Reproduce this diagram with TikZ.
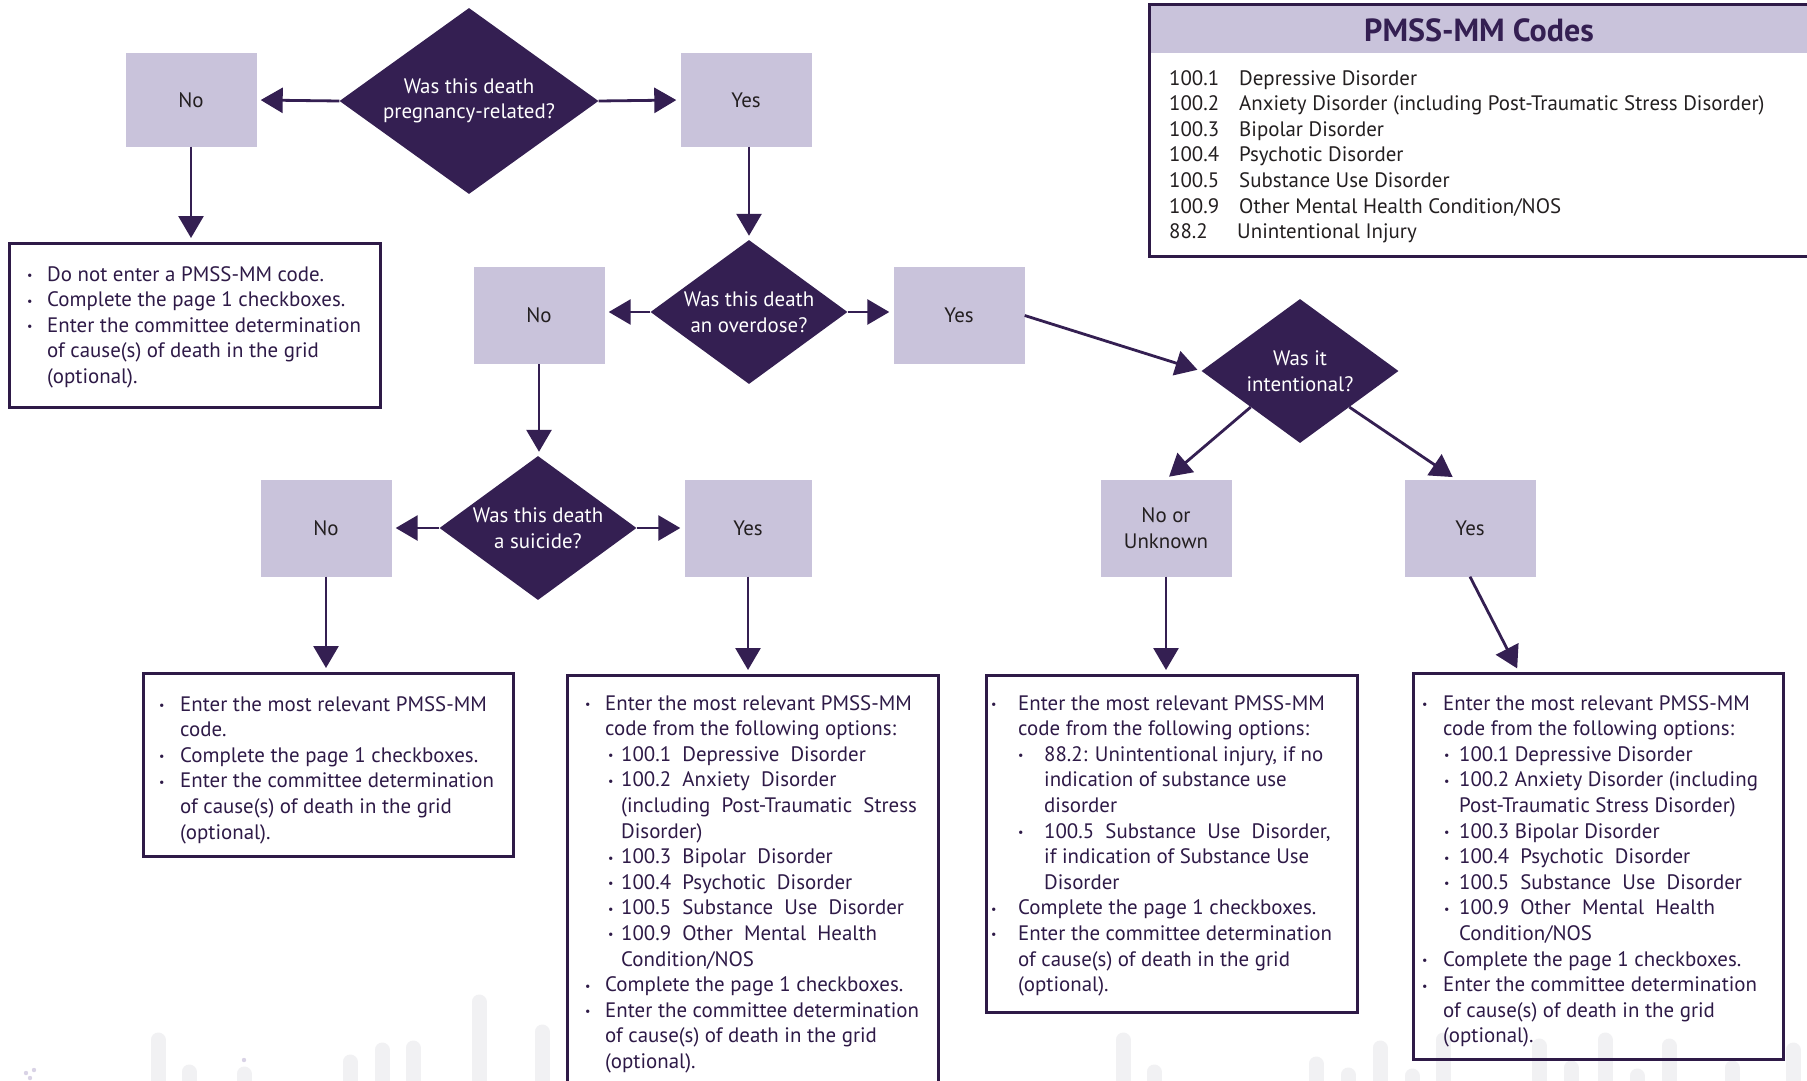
\documentclass[tikz,border=0pt]{standalone}
\usepackage{fontspec}
\setmainfont{PT Sans}
\usepackage{graphicx}
\usetikzlibrary{shapes.geometric,arrows.meta,calc}
\definecolor{dpurple}{HTML}{341F52}
\definecolor{lav}{HTML}{C9C3DB}
\definecolor{txtp}{HTML}{2E1A47}
\definecolor{ink}{HTML}{231F20}
\definecolor{wm}{HTML}{F1F1F3}
\definecolor{wmp}{HTML}{D9D3E6}
\newcommand\bu[1]{\makebox[#1][l]{\raisebox{1.5pt}{\fontsize{12}{12}\selectfont •}}}
\newcommand\ind[1]{\hspace*{#1}}
\begin{document}
\begin{tikzpicture}[x=1pt,y=-1pt,
  font=\fontsize{20.9}{25.6}\selectfont,
  ques/.style={diamond, fill=dpurple, text=white, align=center, inner sep=-40pt},
  ans/.style={rectangle, fill=lav, text=ink, align=center, minimum width=131pt, minimum height=97pt, inner sep=0pt},
  tbox/.style={rectangle, draw=txtp, line width=2.8pt, inner sep=0pt, anchor=north west},
  btxt/.style={anchor=north west, align=left, text=txtp, inner sep=0pt},
  arr/.style={draw=dpurple, line width=2.8pt, -{Triangle[length=22pt,width=25pt]}, shorten >=4pt},
  wmbar/.style={draw=wm, line width=15pt, line cap=round}]
\useasboundingbox (0,0) rectangle (1807,1081);
\clip (0,0) rectangle (1807,1081);
\fill[white] (0,0) rectangle (1807,1081);

% faint background bars
\foreach \x/\t in {158/1040,189/1072,244/1074,350/1062,382/1050,413/1048,479/1002,542/1032,
  1123/1040,1154/1072,1316/1064,1348/1075,1380/1048,1412/1076,1443/1040,1539/1046,1571/1068,1605/1040,1637/1076,1669/1046,1732/1068,1793/1050}
  \draw[wmbar] (\x,\t) -- (\x,1110);
\foreach \x/\y in {26/1073,34/1070,30/1078,244/1060}
  \fill[wmp] (\x,\y) circle (2.2pt);

% PMSS-MM codes box
\node[rectangle, fill=lav, inner sep=0pt, minimum width=660pt, minimum height=50pt, anchor=north west] (pmhead) at (1148,3) {};
\node[tbox, minimum width=660pt, minimum height=252pt] (pmss) at (1148,3) {};
\node[font=\bfseries\fontsize{32}{35}\selectfont, text=dpurple] (pmtitle) at (1479,30) {PMSS-MM Codes};
\node[btxt, text=ink] (pmlist) at (1169,70) {%
\makebox[70pt][l]{100.1}Depressive Disorder\\
\makebox[70pt][l]{100.2}Anxiety Disorder (including Post-Traumatic Stress Disorder)\\
\makebox[70pt][l]{100.3}Bipolar Disorder\\
\makebox[70pt][l]{100.4}Psychotic Disorder\\
\makebox[70pt][l]{100.5}Substance Use Disorder\\
\makebox[70pt][l]{100.9}Other Mental Health Condition/NOS\\
\makebox[68pt][l]{88.2}Unintentional Injury};

% questions
\node[ques, minimum width=259pt, minimum height=186pt] (q1) at (469,101) {Was this death\\pregnancy-related?};
\node[ques, minimum width=197pt, minimum height=144pt] (q2) at (749,312) {Was this death\\an overdose?};
\node[ques, minimum width=197pt, minimum height=144pt] (q3) at (1300,371) {Was it\\intentional?};
\node[ques, minimum width=197pt, minimum height=144pt] (q4) at (538,528) {Was this death\\a suicide?};

% answers
\node[ans, minimum height=93pt] (no1) at (191,100) {No};
\node[ans, minimum height=93pt] (yes1) at (746,100) {Yes};
\node[ans] (no2) at (539,315.5) {No};
\node[ans] (yes2) at (959,315.5) {Yes};
\node[ans] (nounk) at (1166,528) {No or\\Unknown};
\node[ans] (yes3) at (1470,528) {Yes};
\node[ans] (no4) at (326,528) {No};
\node[ans, minimum width=127pt] (yes4) at (748,528) {Yes};

% text boxes
\node[tbox, minimum width=371pt, minimum height=164pt] (tb1) at (8,242) {};
\node[btxt] (tb1t) at (27,266) {%
\bu{20pt}Do not enter a PMSS-MM code.\\
\bu{20pt}Complete the page 1 checkboxes.\\
\bu{20pt}Enter the committee determination\\
\ind{20pt}of cause(s) of death in the grid\\
\ind{20pt}(optional).};

\node[tbox, minimum width=370pt, minimum height=183pt] (tb4) at (142,672) {};
\node[btxt] (tb4t) at (159,696) {%
\bu{21pt}Enter the most relevant PMSS-MM\\
\ind{21pt}code.\\
\bu{21pt}Complete the page 1 checkboxes.\\
\bu{21pt}Enter the committee determination\\
\ind{21pt}of cause(s) of death in the grid\\
\ind{21pt}(optional).};

\node[tbox, minimum width=371pt, minimum height=440pt] (tb5) at (566,674) {};
\node[btxt] (tb5t) at (585,695) {%
\bu{20pt}Enter the most relevant PMSS-MM\\
\ind{20pt}code from the following options:\\
\ind{23pt}\bu{13pt}100.1\ \ Depressive\ \ Disorder\\
\ind{23pt}\bu{13pt}100.2\ \ Anxiety\ \ Disorder\\
\ind{36pt}(including\ \ Post-Traumatic\ \ Stress\\
\ind{36pt}Disorder)\\
\ind{23pt}\bu{13pt}100.3\ \ Bipolar\ \ Disorder\\
\ind{23pt}\bu{13pt}100.4\ \ Psychotic\ \ Disorder\\
\ind{23pt}\bu{13pt}100.5\ \ Substance\ \ Use\ \ Disorder\\
\ind{23pt}\bu{13pt}100.9\ \ Other\ \ Mental\ \ Health\\
\ind{36pt}Condition/NOS\\
\bu{20pt}Complete the page 1 checkboxes.\\
\bu{20pt}Enter the committee determination\\
\ind{20pt}of cause(s) of death in the grid\\
\ind{20pt}(optional).};

\node[tbox, minimum width=371pt, minimum height=337pt] (tb6) at (985,674) {};
\node[btxt] (tb6t) at (991,695) {%
\bu{27pt}Enter the most relevant PMSS-MM\\
\ind{27pt}code from the following options:\\
\ind{27pt}\bu{26pt}88.2: Unintentional injury, if no\\
\ind{53pt}indication of substance use\\
\ind{53pt}disorder\\
\ind{27pt}\bu{26pt}100.5\ \ Substance\ \ Use\ \ Disorder,\\
\ind{53pt}if indication of Substance Use\\
\ind{53pt}Disorder\\
\bu{27pt}Complete the page 1 checkboxes.\\
\bu{27pt}Enter the committee determination\\
\ind{27pt}of cause(s) of death in the grid\\
\ind{27pt}(optional).};

\node[tbox, minimum width=370pt, minimum height=386pt] (tb7) at (1412,672) {};
\node[btxt] (tb7t) at (1422,695) {%
\bu{21pt}Enter the most relevant PMSS-MM\\
\ind{21pt}code from the following options:\\
\ind{22pt}\bu{15pt}100.1 Depressive Disorder\\
\ind{22pt}\bu{15pt}100.2 Anxiety Disorder (including\\
\ind{37pt}Post-Traumatic Stress Disorder)\\
\ind{22pt}\bu{15pt}100.3 Bipolar Disorder\\
\ind{22pt}\bu{15pt}100.4\ \ Psychotic\ \ Disorder\\
\ind{22pt}\bu{15pt}100.5\ \ Substance\ \ Use\ \ Disorder\\
\ind{22pt}\bu{15pt}100.9\ \ Other\ \ Mental\ \ Health\\
\ind{37pt}Condition/NOS\\
\bu{21pt}Complete the page 1 checkboxes.\\
\bu{21pt}Enter the committee determination\\
\ind{21pt}of cause(s) of death in the grid\\
\ind{21pt}(optional).};

% connectors
\draw[arr] (q1.west) -- (no1.east);
\draw[arr] (q1.east) -- (yes1.west);
\draw[arr] (no1.south) -- (no1.south |- tb1.north);
\draw[arr] (q2.north |- yes1.south) -- (q2.north);
\draw[arr] (q2.west) -- (q2.west -| no2.east);
\draw[arr] (q2.east) -- (q2.east -| yes2.west);
\draw[arr] (yes2.east) -- (q3.west);
\draw[arr] ($(q3.west)!0.5!(q3.south)$) -- (nounk.north);
\draw[arr] ($(q3.east)!0.5!(q3.south)$) -- ($(yes3.north)+(-14,0)$);
\draw[arr] (no2.south) -- (no2.south |- q4.north);
\draw[arr] (q4.west) -- (q4.west -| no4.east);
\draw[arr] (q4.east) -- (q4.east -| yes4.west);
\draw[arr] (no4.south) -- (no4.south |- tb4.north);
\draw[arr] (yes4.south) -- (yes4.south |- tb5.north);
\draw[arr] (nounk.south) -- (nounk.south |- tb6.north);
\draw[arr] (yes3.south) -- ($(tb7.north west)+(107,0)$);
\end{tikzpicture}
\end{document}
